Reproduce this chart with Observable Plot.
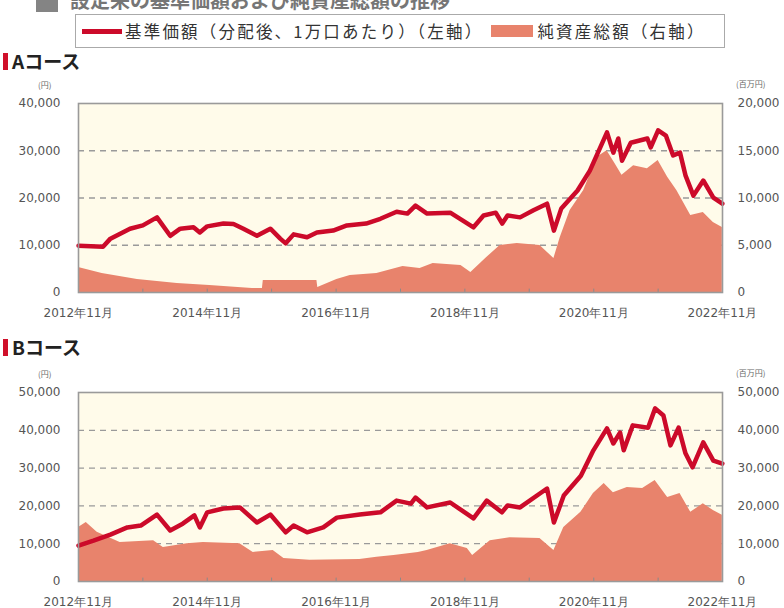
<!DOCTYPE html>
<html><head><meta charset="utf-8">
<script src="https://cdn.jsdelivr.net/npm/d3@7"></script>
<script src="https://cdn.jsdelivr.net/npm/@observablehq/plot@0.6"></script>
<style>
html,body{margin:0;padding:0;background:#fff;}
#root{position:relative;width:784px;height:608px;overflow:hidden;font-family:"Noto Sans CJK JP",sans-serif;}
.abs{position:absolute;}
.title{font-weight:bold;font-size:19px;color:#222;}
.bar{position:absolute;width:5px;height:17px;background:#d0102a;}
.unit{font-size:8px;color:#666;font-family:"Noto Sans CJK JP",sans-serif;}
.legend{left:75px;top:14px;width:648px;height:32px;border:1.5px solid #aaa;display:flex;align-items:center;font-size:16.5px;letter-spacing:2.2px;color:#333;}
</style></head>
<body><div id="root"></div>
<script>
// ---- data ----
const xTickDates = ["2012-11-01","2014-11-01","2016-11-01","2018-11-01","2020-11-01","2022-11-01"];
const yearTickDates = ["2013-11-01","2014-11-01","2015-11-01","2016-11-01","2017-11-01","2018-11-01","2019-11-01","2020-11-01","2021-11-01"];

const aLineDates = ["2012-11-01","2013-03-20","2013-05-01","2013-08-20","2013-11-01","2014-01-20","2014-04-05","2014-06-01","2014-08-15","2014-09-20","2014-11-01","2015-02-01","2015-03-30","2015-05-25","2015-08-10","2015-10-25","2015-12-20","2016-01-20","2016-03-05","2016-05-20","2016-07-15","2016-10-15","2017-01-01","2017-04-20","2017-07-10","2017-10-10","2017-12-10","2018-01-25","2018-04-01","2018-08-10","2018-12-20","2019-02-15","2019-04-25","2019-06-01","2019-07-01","2019-09-10","2019-11-25","2020-02-10","2020-03-20","2020-05-01","2020-08-01","2020-10-10","2021-01-15","2021-02-20","2021-03-20","2021-04-10","2021-05-30","2021-09-01","2021-09-20","2021-11-01","2021-12-15","2022-01-25","2022-03-05","2022-04-05","2022-05-20","2022-07-15","2022-09-10","2022-10-31"];
const aLineValues = [9900,9700,11400,13500,14200,15900,12000,13500,13800,12700,14000,14600,14500,13500,12000,13500,11400,10400,12300,11700,12700,13100,14200,14600,15600,17100,16700,18400,16700,16900,13800,16300,16900,14600,16300,15900,17400,18800,13100,17800,21600,25800,33900,29600,32600,27900,31700,32600,30700,34300,33200,29000,29600,24800,20500,23700,20100,18800];

const aNavDates = ["2012-11-01","2013-03-15","2013-10-01","2014-05-15","2014-11-15","2015-07-15","2015-09-10","2015-09-15","2016-07-15","2016-07-20","2016-11-05","2017-01-20","2017-06-20","2017-11-15","2018-02-20","2018-05-05","2018-10-10","2018-12-05","2019-03-05","2019-05-20","2019-08-25","2020-01-01","2020-03-20","2020-04-25","2020-06-20","2020-09-05","2020-11-20","2021-01-15","2021-03-01","2021-04-10","2021-06-15","2021-09-01","2021-11-01","2021-12-25","2022-02-15","2022-05-05","2022-07-15","2022-09-10","2022-10-31"];
const aNavValues = [2650,2000,1370,950,740,420,430,1270,1270,530,1370,1800,2000,2750,2540,3070,2860,2120,3700,4970,5190,4970,3600,5820,8680,10800,14300,15000,13650,12400,13400,13100,13970,12200,10800,8150,8470,7400,6880];

const bLineDates = ["2012-11-01","2013-01-25","2013-05-01","2013-08-05","2013-10-20","2014-01-20","2014-04-05","2014-06-15","2014-08-20","2014-09-20","2014-11-01","2015-02-01","2015-05-05","2015-08-10","2015-10-25","2016-01-20","2016-03-05","2016-05-20","2016-08-20","2016-11-05","2017-03-15","2017-07-10","2017-10-10","2017-12-30","2018-01-25","2018-04-01","2018-08-10","2018-12-20","2019-03-05","2019-05-30","2019-07-01","2019-09-10","2020-02-10","2020-03-20","2020-05-15","2020-08-20","2020-10-30","2021-01-15","2021-02-20","2021-03-30","2021-04-20","2021-06-10","2021-09-05","2021-10-15","2021-12-01","2022-01-10","2022-02-25","2022-04-05","2022-05-15","2022-07-15","2022-09-10","2022-10-31"];
const bLineValues = [9500,10800,12400,14300,14800,17700,13500,15300,17500,14300,18300,19300,19600,15600,17700,13000,14800,13000,14300,16900,17700,18300,21400,20600,22200,19600,20900,16700,21400,18300,20100,19600,24600,15600,22750,28000,34700,40500,36500,39400,34700,41300,40700,45800,43900,36000,40700,33900,30200,36800,32000,31200];

const bNavDates = ["2012-11-01","2012-12-15","2013-02-15","2013-06-25","2014-01-01","2014-02-25","2014-07-10","2014-10-10","2015-05-05","2015-07-20","2015-11-10","2016-01-10","2016-06-05","2017-03-15","2017-06-20","2017-09-25","2018-02-10","2018-04-01","2018-08-10","2018-11-15","2018-12-15","2019-03-25","2019-07-15","2020-01-01","2020-03-20","2020-05-15","2020-08-20","2020-10-30","2020-12-30","2021-02-20","2021-05-10","2021-08-05","2021-10-15","2021-12-25","2022-03-05","2022-05-05","2022-07-15","2022-09-10","2022-10-31"];
const bNavValues = [14300,15600,13000,10300,10800,9000,10000,10300,10000,7700,8200,6100,5600,5800,6400,6900,7700,8200,10000,8700,6900,10800,11600,11400,8200,14300,18300,23300,25900,23500,24900,24600,26700,22200,23300,18300,20600,18800,17500];

const aLeftTicks = [0,10000,20000,30000,40000];
const aRightTicks = [0,5000,10000,15000,20000];
const bLeftTicks = [0,10000,20000,30000,40000,50000];
const bRightTicks = [0,10000,20000,30000,40000,50000];

const legendLineLabel = "基準価額（分配後、1万口あたり）（左軸）";
const legendAreaLabel = "純資産総額（右軸）";

// ---- styles ----
const LINE = "#cc0a2a", AREA = "#e8836c", BG = "#fffbea";
const fmt = d3.format(",");
const root = document.getElementById("root");

function el(html, style, cls){ const d=document.createElement("div"); d.className="abs "+(cls||""); d.innerHTML=html; Object.assign(d.style,style); root.appendChild(d); return d; }

// header (cut off at the top edge in the reference)
el('<span style="display:inline-block;width:22px;height:18px;background:#666;vertical-align:middle;margin-right:12px"></span>設定来の基準価額および純資産総額の推移', {left:"36px",top:"-15px",fontSize:"20px",fontWeight:"bold",color:"#555",whiteSpace:"nowrap",opacity:"0.8"});

// legend
el(`<span style="display:inline-block;width:40px;height:5px;background:${LINE};margin:0 3px 0 6px"></span><span>${legendLineLabel}</span><span style="display:inline-block;width:42px;height:12px;background:${AREA};margin:0 4px 0 8px"></span><span>${legendAreaLabel}</span>`, {}, "legend");

function chart(o){
  const parse = s => new Date(s + "T00:00:00Z");
  const line = o.lineDates.map((d,i)=>({date:parse(d), v:o.lineVals[i]}));
  const ratio = o.leftMax / o.rightMax;
  const nav = o.navDates.map((d,i)=>({date:parse(d), v:o.navVals[i]*ratio}));
  const svg = Plot.plot({
    width:784, height:o.height,
    marginLeft:78, marginRight:62, marginTop:o.marginTop, marginBottom:o.marginBottom,
    style:{fontFamily:"'DejaVu Sans', sans-serif", fontSize:"12px", color:"#555", background:"transparent"},
    x:{type:"utc", domain:[parse("2012-11-01"), parse("2022-11-01")]},
    y:{domain:[0,o.leftMax]},
    marks:[
      Plot.frame({fill:BG, stroke:null}),
      Plot.ruleY(o.leftTicks.filter(t=>t>0 && t<o.leftMax), {stroke:"#9a9a9a", strokeWidth:1.3, strokeDasharray:"6,5"}),
      Plot.areaY(nav, {x:"date", y:"v", fill:AREA}),
      Plot.ruleX(yearTickDates.map(parse), {y1:0, y2:o.leftMax*0.018, stroke:"#8a8a8a", strokeWidth:1}),
      Plot.lineY(line, {x:"date", y:"v", stroke:LINE, strokeWidth:4.5, strokeLinejoin:"round"}),
      Plot.frame({stroke:"#9a9a9a", strokeWidth:1.6}),
      Plot.axisY(o.leftTicks, {anchor:"left", label:null, tickSize:0, tickPadding:18, tickFormat:fmt, fill:"#555"}),
      Plot.axisY(o.rightTicks.map(t=>t*ratio), {anchor:"right", label:null, tickSize:0, tickPadding:15, tickFormat:d=>fmt(Math.round(d/ratio)), fill:"#555"}),
      Plot.axisX(xTickDates.map(parse), {anchor:"bottom", label:null, tickSize:0, tickPadding:16, tickFormat:d=>`${d.getUTCFullYear()}年${d.getUTCMonth()+1}月`, fill:"#555", fontSize:12})
    ]
  });
  svg.style.position="absolute"; svg.style.left="0px"; svg.style.top=o.top+"px";
  root.appendChild(svg);
  el("(円)", {left:"38px", top:(o.top+o.marginTop-24)+"px"}, "unit");
  el("(百万円)", {left:"736px", top:(o.top+o.marginTop-25)+"px", whiteSpace:"nowrap"}, "unit");
}

// titles
el("", {left:"3px", top:"53px"}, "bar");
el("Aコース", {left:"12px", top:"47px"}, "title");
el("", {left:"3px", top:"339px"}, "bar");
el("Bコース", {left:"12px", top:"333px"}, "title");

chart({lineDates:aLineDates, lineVals:aLineValues, navDates:aNavDates, navVals:aNavValues, leftMax:40000, rightMax:20000, leftTicks:aLeftTicks, rightTicks:aRightTicks, top:75, height:250, marginTop:28, marginBottom:33});
chart({lineDates:bLineDates, lineVals:bLineValues, navDates:bNavDates, navVals:bNavValues, leftMax:50000, rightMax:50000, leftTicks:bLeftTicks, rightTicks:bRightTicks, top:360, height:248, marginTop:32, marginBottom:27});
</script></body></html>
